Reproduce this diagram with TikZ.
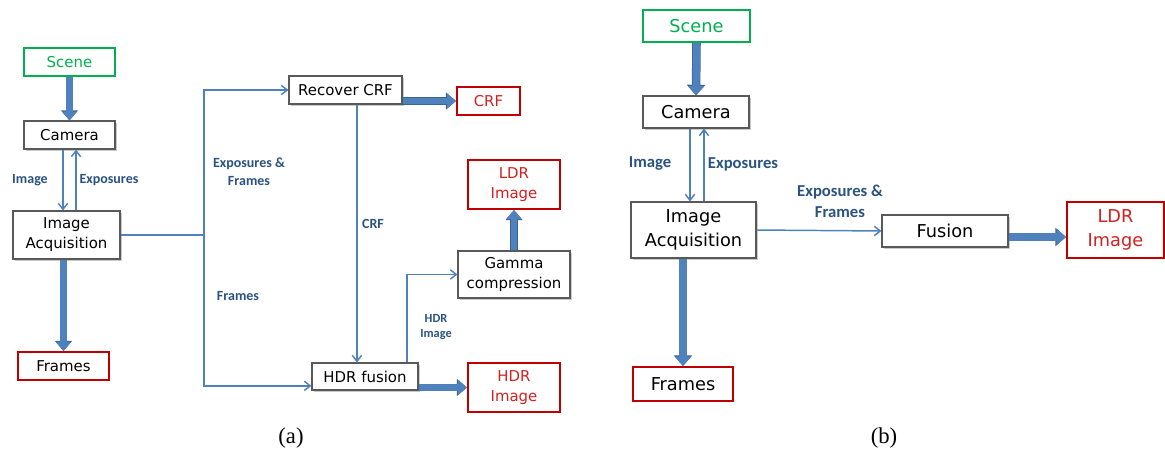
\documentclass[tikz,border=0pt]{standalone}
\usepackage{fontspec}
\setmainfont{Liberation Serif}
\newfontfamily\boxfont{DejaVu Sans}
\newfontfamily\lblfont{Carlito}
\usetikzlibrary{arrows.meta,shadows,calc}
\definecolor{thinblue}{HTML}{4F81BD}
\definecolor{fatblue}{HTML}{4F81BD}
\definecolor{fatdark}{HTML}{3A6496}
\definecolor{lblblue}{HTML}{2A5381}
\definecolor{boxred}{HTML}{C00000}
\definecolor{txtred}{HTML}{D42020}
\definecolor{boxgreen}{HTML}{00B050}
\definecolor{boxgray}{HTML}{595959}
\begin{document}
\begin{tikzpicture}[x=0.75pt,y=-0.75pt,
  sz/.style 2 args={minimum width={#1*0.75pt},minimum height={#2*0.75pt}},
  bbase/.style={rectangle,inner sep=0pt,align=center,fill=white},
  blk/.style={bbase,draw=boxgray,line width=0.8pt,
    drop shadow={shadow xshift=1.3pt,shadow yshift=-1.3pt,opacity=0.35,fill=black!60}},
  rbox/.style={bbase,draw=boxred,line width=1.5pt,text=txtred},
  gbox/.style={bbase,draw=boxgreen,line width=1.5pt,text=boxgreen},
  fa/.style={font=\boxfont\fontsize{11.2}{15}\selectfont},
  fb/.style={font=\boxfont\fontsize{13.3}{17.5}\selectfont},
  conn/.style={draw=thinblue,line width=1.1pt,-{Straight Barb[length=4.5pt,width=7pt]}},
  connl/.style={draw=thinblue,line width=1.1pt},
  fat/.style={draw=fatblue,line width=4.6pt,-{Triangle[length=6.6pt,width=10.8pt]},
    preaction={draw=fatdark,line width=5.6pt,-{Triangle[length=7.6pt,width=12.4pt]}}},
  fatb/.style={draw=fatblue,line width=5.4pt,-{Triangle[length=7pt,width=11.8pt]},
    preaction={draw=fatdark,line width=6.4pt,-{Triangle[length=8pt,width=13.4pt]}}},
  lbl/.style={text=lblblue,inner sep=0pt,align=center,font=\lblfont\bfseries\fontsize{10.5}{13.5}\selectfont},
  lblb/.style={text=lblblue,inner sep=0pt,align=center,font=\lblfont\bfseries\fontsize{12.5}{16}\selectfont},
  captxt/.style={inner sep=0pt,font=\fontsize{17}{20}\selectfont}
]
\useasboundingbox (0,0) rectangle (1165,450);

% ---------------- panel (a) ----------------
\node[gbox,fa,sz={91}{28}] (sceneA) at (69.5,62) {Scene};
\node[blk,fa,sz={91}{28}] (camA) at (69.5,135) {Camera};
\node[blk,fa,sz={107}{48}] (acqA) at (66.5,235) {Image\\Acquisition};
\node[rbox,fa,text=black,sz={91}{28}] (framesA) at (63.5,366) {Frames};
\node[blk,fa,sz={113}{28}] (recA) at (345.5,90) {Recover CRF};
\node[rbox,fa,sz={63}{28}] (crfA) at (488.5,101) {CRF};
\node[blk,fa,sz={106}{27}] (hdrfA) at (365,376.5) {HDR fusion};
\node[rbox,fa,sz={92}{49}] (hdriA) at (514,387.5) {HDR\\Image};
\node[blk,fa,sz={112}{47}] (gamA) at (514,274.5) {Gamma\\compression};
\node[rbox,fa,sz={92}{49}] (ldrA) at (514,184.5) {LDR\\Image};
\coordinate (splitA) at (204,235);

\draw[fat] (sceneA.south) -- (camA.north);
\draw[conn] ([xshift=-4.9pt]camA.south) -- ([xshift=-4.9pt]camA.south |- acqA.north);
\draw[conn] ([xshift=4.9pt]camA.south |- acqA.north) -- ([xshift=4.9pt]camA.south);
\draw[fat] (framesA.north |- acqA.south) -- (framesA.north);
\draw[connl] (acqA.east) -- (splitA);
\draw[conn] (splitA) |- (recA.west);
\draw[conn] (splitA) |- ([yshift=-7pt]hdrfA.west);
\draw[fat] (recA.east |- crfA.west) -- (crfA.west);
\draw[conn] ([xshift=8.6pt]recA.south) -- ([xshift=8.6pt]recA.south |- hdrfA.north);
\draw[fat] (hdrfA.east |- hdriA.west) -- (hdriA.west);
\draw[conn] ([xshift=31.5pt]hdrfA.north) |- (gamA.west);
\draw[fat] (gamA.north) -- (ldrA.south);

\node[lbl] (lImgA) at (30,180) {Image};
\node[lbl] (lExpA) at (109,180) {Exposures};
\node[lbl] (lEFA) at (249,172) {Exposures \&\\Frames};
\node[lbl] (lFrA) at (238,296) {Frames};
\node[lbl] (lCrfA) at (373,224) {CRF};
\node[lbl,font=\lblfont\bfseries\fontsize{9.3}{11}\selectfont] (lHdrA) at (436,327) {HDR\\Image};
\node[captxt] (capA) at (291,438) {(a)};

% ---------------- panel (b) ----------------
\node[gbox,fb,sz={107}{32}] (sceneB) at (696.5,26) {Scene};
\node[blk,fb,sz={106}{32}] (camB) at (696,112) {Camera};
\node[blk,fb,sz={125}{56}] (acqB) at (693.5,230) {Image\\Acquisition};
\node[rbox,fb,text=black,sz={100}{34}] (framesB) at (683,384) {Frames};
\node[blk,fb,sz={126}{32}] (fusB) at (945,231) {Fusion};
\node[rbox,fb,sz={97}{56}] (ldrB) at (1115.5,230) {LDR\\Image};

\draw[fatb] (sceneB.south) -- (camB.north);
\draw[conn] ([xshift=-4.5pt]camB.south) -- ([xshift=-4.5pt]camB.south |- acqB.north);
\draw[conn] ([xshift=6pt]camB.south |- acqB.north) -- ([xshift=6pt]camB.south);
\draw[conn] (acqB.east) -- (fusB.west);
\draw[fatb] ([yshift=-4.5pt]fusB.east) -- ([yshift=-4.5pt]fusB.east -| ldrB.west);
\draw[fatb] (framesB.north |- acqB.south) -- (framesB.north);

\node[lblb] (lImgB) at (650,164) {Image};
\node[lblb] (lExpB) at (743,164) {Exposures};
\node[lblb] (lEFB) at (840,201) {Exposures \&\\Frames};
\node[captxt] (capB) at (884,438) {(b)};
\end{tikzpicture}
\end{document}
